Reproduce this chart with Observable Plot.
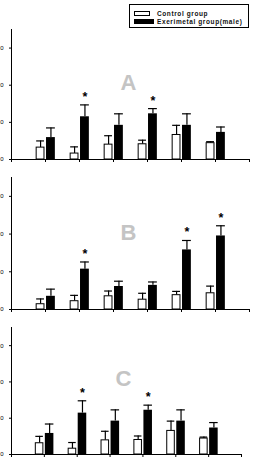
<!DOCTYPE html>
<html>
<head>
<meta charset="utf-8">
<script src="https://cdn.jsdelivr.net/npm/d3@7"></script>
<script src="https://cdn.jsdelivr.net/npm/@observablehq/plot@0.6"></script>
<style>
  html, body { margin: 0; padding: 0; background: #fff; }
  #wrap { position: relative; width: 254px; height: 462px; overflow: hidden; font-family: "Liberation Sans", Arial, sans-serif; }
  .panel { position: absolute; left: -20px; max-width: none !important; }
  #legend { position: absolute; left: 129px; top: 4px; width: 118px; height: 22px; border: 1px solid #000; background: #fff; }
  #legend .row { position: absolute; left: 4px; display: flex; align-items: center; font-weight: bold; font-size: 6.5px; letter-spacing: 0.6px; color: #111; white-space: nowrap; }
  #legend .sw { display: inline-block; box-sizing: border-box; margin-right: 3px; }
</style>
</head>
<body>
<div id="wrap">
  <div id="legend"></div>
</div>
<script>
// ---- data ----
const groups = [1, 2, 3, 4, 5, 6];
const yTicks = [0, 10, 20, 30];
const seriesNames = ["Control group", "Exerimetal group(male)"];

const controlA = [3.2, 1.6, 4.0, 4.1, 6.6, 4.4];
const controlSEA = [1.8, 1.8, 2.4, 1.1, 2.6, 0.4];
const expA = [5.9, 11.5, 9.2, 12.3, 9.2, 7.3];
const expSEA = [2.6, 3.2, 3.1, 1.4, 3.1, 1.45];
const starsA = [0, 1, 0, 1, 0, 0];

const controlB = [1.4, 2.2, 3.5, 2.6, 3.8, 4.3];
const controlSEB = [1.4, 1.55, 1.4, 1.7, 1.0, 1.9];
const expB = [3.5, 10.7, 6.1, 6.4, 15.8, 19.5];
const expSEB = [1.9, 1.9, 1.4, 0.9, 2.5, 2.7];
const starsB = [0, 1, 0, 0, 1, 1];

const controlC = [3.1, 1.6, 3.9, 4.0, 6.5, 4.4];
const controlSEC = [1.9, 1.7, 2.5, 1.1, 2.7, 0.4];
const expC = [5.8, 11.4, 9.2, 12.2, 9.2, 7.3];
const expSEC = [2.6, 3.4, 3.1, 1.4, 3.1, 1.5];
const starsC = [0, 1, 0, 1, 0, 0];

// ---- drawing ----
const wrap = document.getElementById("wrap");

function panel(letter, control, controlSE, exp, expSE, stars, cfg) {
  const rows = groups.map((g, i) => ({g, c: control[i], cse: controlSE[i], e: exp[i], ese: expSE[i], star: stars[i]}));
  const cx1 = d => d.g - 0.26, cx2 = d => d.g - 0.03;
  const ex1 = d => d.g + 0.03, ex2 = d => d.g + 0.29;
  const chart = Plot.plot({
    width: cfg.width, height: cfg.height,
    marginLeft: 31, marginRight: cfg.marginRight, marginTop: 5, marginBottom: 6,
    x: {domain: [0, 7]},
    y: {domain: [0, 35]},
    style: {fontFamily: "Liberation Sans, Arial, sans-serif", background: "transparent", maxWidth: "none"},
    marks: [
      Plot.text([letter], {frameAnchor: "bottom", lineAnchor: "bottom", dy: cfg.letterDy, dx: cfg.letterDx, fontSize: 22, fontWeight: "bold", fill: "#c4c4c4"}),
      Plot.ruleX(rows, {x: d => d.g - 0.145, y1: "c", y2: d => d.c + d.cse, stroke: "#000", strokeWidth: 1.2}),
      Plot.ruleY(rows, {y: d => d.c + d.cse, x1: cx1, x2: cx2, stroke: "#000", strokeWidth: 1.2}),
      Plot.ruleX(rows, {x: d => d.g + 0.16, y1: "e", y2: d => d.e + d.ese, stroke: "#000", strokeWidth: 1.2}),
      Plot.ruleY(rows, {y: d => d.e + d.ese, x1: ex1, x2: ex2, stroke: "#000", strokeWidth: 1.2}),
      Plot.rect(rows, {x1: cx1, x2: cx2, y1: () => 0, y2: "c", fill: "#fff", stroke: "#000", strokeWidth: 1}),
      Plot.rect(rows, {x1: ex1, x2: ex2, y1: () => 0, y2: "e", fill: "#000"}),
      Plot.text(rows.filter(d => d.star), {x: d => d.g + 0.16, y: d => d.e + d.ese, text: () => "*", fontSize: 12.5, fontWeight: "bold", fill: "#000", lineAnchor: "bottom", dy: -4}),
      Plot.ruleX([0], {stroke: "#000", strokeWidth: 1}),
      Plot.ruleY([0], {stroke: "#000", strokeWidth: 1}),
      Plot.axisY({ticks: yTicks, tickSize: 2, tickPadding: 6, fontSize: 6, label: null, tickFormat: d => String(d)}),
      Plot.axisX({ticks: d3.range(0, 8), tickSize: 3, label: null, tickFormat: () => ""})
    ]
  });
  chart.classList.add("panel");
  chart.style.top = cfg.top + "px";
  chart.style.maxWidth = "none";
  wrap.appendChild(chart);
}

panel("A", controlA, controlSEA, expA, expSEA, starsA, {top: 24, width: 274, height: 141, marginRight: 5, letterDy: -70, letterDx: -2});
panel("B", controlB, controlSEB, expB, expSEB, starsB, {top: 172, width: 274, height: 143, marginRight: 5, letterDy: -70, letterDx: -2});
panel("C", controlC, controlSEC, expC, expSEC, starsC, {top: 322, width: 274, height: 138, marginRight: 13, letterDy: -69, letterDx: -3});

// legend
const legend = document.getElementById("legend");
const swatches = [
  {w: 16, h: 5, bg: "#fff", border: "1px solid #000", top: 5},
  {w: 20, h: 5, bg: "#000", border: "none", top: 13}
];
seriesNames.forEach((name, i) => {
  const row = document.createElement("div");
  row.className = "row";
  row.style.top = swatches[i].top + "px";
  const sw = document.createElement("span");
  sw.className = "sw";
  sw.style.width = swatches[i].w + "px";
  sw.style.height = swatches[i].h + "px";
  sw.style.background = swatches[i].bg;
  sw.style.border = swatches[i].border;
  sw.style.marginRight = (i === 0 ? 7 : 3) + "px";
  row.appendChild(sw);
  const t = document.createElement("span");
  t.textContent = name;
  row.appendChild(t);
  legend.appendChild(row);
});
</script>
</body>
</html>
